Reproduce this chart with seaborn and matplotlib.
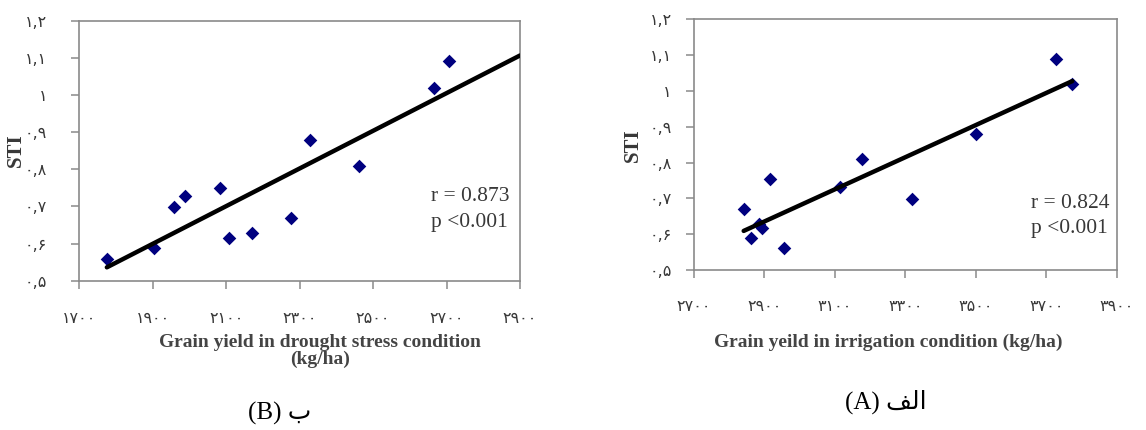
import numpy as np
import pandas as pd
import matplotlib
matplotlib.use("Agg")
import matplotlib.pyplot as plt
import seaborn as sns

# ---- data ----
# Panel B: grain yield in drought stress condition vs STI
yield_drought = [1775, 1904, 1958, 1987, 2084, 2107, 2169, 2276, 2327, 2462, 2667, 2706]
sti_drought = [0.558, 0.588, 0.698, 0.727, 0.749, 0.616, 0.629, 0.668, 0.878, 0.808, 1.019, 1.091]
# Panel A: grain yield in irrigation condition vs STI
yield_irrig = [2841, 2862, 2885, 2893, 2916, 2956, 3115, 3177, 3319, 3502, 3729, 3774]
sti_irrig = [0.670, 0.588, 0.629, 0.618, 0.753, 0.562, 0.732, 0.810, 0.699, 0.879, 1.088, 1.020]

y_ticks = [0.5, 0.6, 0.7, 0.8, 0.9, 1.0, 1.1, 1.2]
y_tick_labels = ["۰,۵", "۰,۶", "۰,۷", "۰,۸", "۰,۹", "۱", "۱,۱", "۱,۲"]
x_ticks_b = [1700, 1900, 2100, 2300, 2500, 2700, 2900]
x_tick_labels_b = ["۱۷۰۰", "۱۹۰۰", "۲۱۰۰", "۲۳۰۰", "۲۵۰۰", "۲۷۰۰", "۲۹۰۰"]
x_ticks_a = [2700, 2900, 3100, 3300, 3500, 3700, 3900]
x_tick_labels_a = ["۲۷۰۰", "۲۹۰۰", "۳۱۰۰", "۳۳۰۰", "۳۵۰۰", "۳۷۰۰", "۳۹۰۰"]

stats_b = ["r = 0.873", "p <0.001"]
stats_a = ["r = 0.824", "p <0.001"]
xlabel_b = "Grain yield in drought stress condition\n(kg/ha)"
xlabel_a = "Grain yeild in irrigation condition (kg/ha)"
caption_b = "(B) ب"
caption_a = "(A) \ufed2\ufedf\ufe8d"   # الف (visual order, shaped forms)

sns.set_style("white")
plt.rcParams["font.family"] = ["DejaVu Sans"]

SERIF = ["Liberation Serif", "DejaVu Sans"]
TXT = "#383838"
SPINE = "#8a8a8a"
MARK = "#00007f"

fig = plt.figure(figsize=(11.46, 4.30), dpi=100)
axB = fig.add_axes([0.0692, 0.3472, 0.3846, 0.6047])
axA = fig.add_axes([0.6056, 0.3721, 0.3688, 0.5830])


def panel(ax, xs, ys, xlim, xticks, xticklabels, line_end, ypad, xpad,
          stats, stat_pos, xlabel, xl_pos, yl_pos):
    df = pd.DataFrame({"x": xs, "y": ys})
    slope, icpt = np.polyfit(df["x"], df["y"], 1)
    lx = np.array([df["x"].min(), line_end if line_end is not None else df["x"].max()])
    fit = pd.DataFrame({"x": lx, "y": slope * lx + icpt})
    sns.scatterplot(data=df, x="x", y="y", marker="D", s=48, color=MARK,
                    linewidth=0, ax=ax, zorder=3)
    sns.lineplot(data=fit, x="x", y="y", color="black", linewidth=3.2,
                 ax=ax, zorder=4)
    ax.set_xlim(*xlim)
    ax.set_ylim(0.5, 1.2)
    ax.set_xticks(xticks)
    ax.set_xticklabels(xticklabels)
    ax.set_yticks(y_ticks)
    ax.set_yticklabels(y_tick_labels)
    for s in ax.spines.values():
        s.set_visible(True)
        s.set_color(SPINE)
        s.set_linewidth(1.2)
    ax.tick_params(axis="both", which="major", direction="out", length=6,
                   width=1.1, color=SPINE, labelcolor=TXT, labelsize=11.5,
                   left=True, bottom=True)
    ax.tick_params(axis="y", pad=ypad)
    ax.tick_params(axis="x", pad=xpad)
    ax.set_xlabel(xlabel, family=SERIF, fontsize=14, color="#444444",
                  linespacing=1.0, fontweight="bold")
    ax.xaxis.set_label_coords(*xl_pos)
    ax.set_ylabel("STI", family=SERIF, fontsize=15, fontweight="bold",
                  color=TXT, va="center")
    ax.yaxis.set_label_coords(*yl_pos)
    ax.text(stat_pos[0], stat_pos[1], stats[0], transform=ax.transAxes,
            family=SERIF, fontsize=15.5, color=TXT, va="center", ha="left")
    ax.text(stat_pos[0], stat_pos[2], stats[1], transform=ax.transAxes,
            family=SERIF, fontsize=15.5, color=TXT, va="center", ha="left")


panel(axB, yield_drought, sti_drought, (1700, 2900), x_ticks_b, x_tick_labels_b,
      2900, 17, 16, stats_b, (0.797, 0.322, 0.222), xlabel_b,
      (0.546, -0.205), (-0.1436, 0.503))
panel(axA, yield_irrig, sti_irrig, (2700, 3900), x_ticks_a, x_tick_labels_a,
      None, 10, 15, stats_a, (0.797, 0.264, 0.164), xlabel_a,
      (0.459, -0.255), (-0.1443, 0.4966))

fig.text(280 / 1146, 1 - 413 / 430, caption_b, family=SERIF, fontsize=18,
         color="black", ha="center", va="center")
fig.text(886 / 1146, 1 - 402 / 430, caption_a, family=SERIF, fontsize=18,
         color="black", ha="center", va="center")

fig.savefig("out.png", dpi=100, facecolor="white")
